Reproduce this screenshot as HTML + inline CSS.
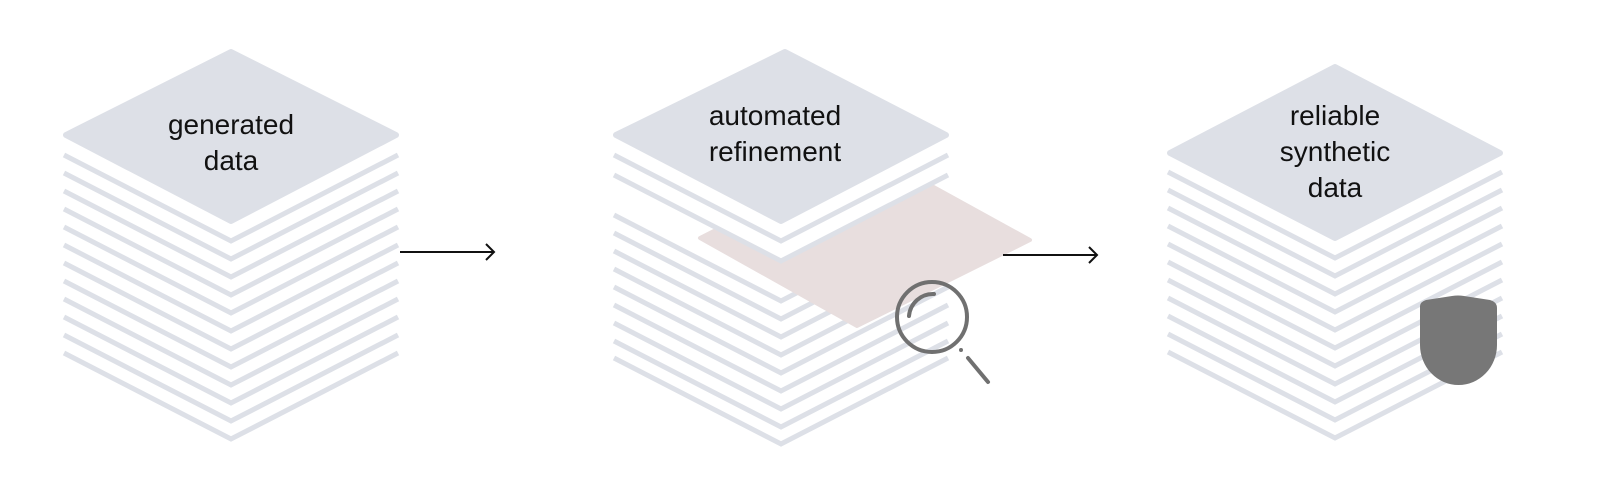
<!DOCTYPE html>
<html><head><meta charset="utf-8"><style>
html,body{margin:0;padding:0;background:#fff;}
svg{display:block}
text{font-family:"Liberation Sans",sans-serif;font-size:28px;fill:#111;text-anchor:middle}
</style></head><body>
<svg width="1600" height="479" viewBox="0 0 1600 479" xmlns="http://www.w3.org/2000/svg">
<g fill="none" stroke="#dde0e7" stroke-width="5">
<polyline points="64,155 231,241 398,155"/>
<polyline points="64,173 231,259 398,173"/>
<polyline points="64,191 231,277 398,191"/>
<polyline points="64,209 231,295 398,209"/>
<polyline points="64,227 231,313 398,227"/>
<polyline points="64,245 231,331 398,245"/>
<polyline points="64,263 231,349 398,263"/>
<polyline points="64,281 231,367 398,281"/>
<polyline points="64,299 231,385 398,299"/>
<polyline points="64,317 231,403 398,317"/>
<polyline points="64,335 231,421 398,335"/>
<polyline points="64,353 231,439 398,353"/>
<polyline points="614,215 781,301 948,215"/>
<polyline points="614,233 781,319 948,233"/>
<polyline points="614,251 781,337 948,251"/>
<polyline points="614,269 781,355 948,269"/>
<polyline points="614,287 781,373 948,287"/>
<polyline points="614,305 781,391 948,305"/>
<polyline points="614,323 781,409 948,323"/>
<polyline points="614,341 781,427 948,341"/>
<polyline points="614,358 781,444 948,358"/>
</g>
<polygon points="700,238 870,152 1030,240 857,326" fill="#e8dede" stroke="#e8dede" stroke-width="4" stroke-linejoin="round"/>
<polygon points="614,135 781,221 948,135 948,177 781,263 614,177" fill="#fff"/>
<g fill="none" stroke="#dde0e7" stroke-width="5">
<polyline points="614,155 781,241 948,155"/>
<polyline points="614,175 781,261 948,175"/>
<polyline points="1168,172 1335,258 1502,172"/>
<polyline points="1168,190 1335,276 1502,190"/>
<polyline points="1168,208 1335,294 1502,208"/>
<polyline points="1168,226 1335,312 1502,226"/>
<polyline points="1168,244 1335,330 1502,244"/>
<polyline points="1168,262 1335,348 1502,262"/>
<polyline points="1168,280 1335,366 1502,280"/>
<polyline points="1168,298 1335,384 1502,298"/>
<polyline points="1168,316 1335,402 1502,316"/>
<polyline points="1168,334 1335,420 1502,334"/>
<polyline points="1168,352 1335,438 1502,352"/>
</g>
<g fill="#dde0e7" stroke="#dde0e7" stroke-width="6" stroke-linejoin="round">
<polygon points="231,52 396,135 231,221 66,135"/>
<polygon points="785,52 946,135 781,221 616,135"/>
<polygon points="1335,67 1500,153 1335,238 1170,153"/>
</g>
<text x="231" y="134">generated</text>
<text x="231" y="170">data</text>
<text x="775" y="125">automated</text>
<text x="775" y="161">refinement</text>
<text x="1335" y="125">reliable</text>
<text x="1335" y="161">synthetic</text>
<text x="1335" y="197">data</text>
<g stroke="#111" stroke-width="2" fill="none">
<line x1="400" y1="252" x2="494" y2="252"/>
<polyline points="486,244 494,252 486,260"/>
<line x1="1003" y1="255" x2="1097" y2="255"/>
<polyline points="1089,247 1097,255 1089,263"/>
</g>
<g stroke="#707070" fill="none" stroke-width="4" stroke-linecap="round">
<circle cx="932" cy="317" r="35"/>
<path d="M909,316 A24,24 0 0 1 934,294"/>
<line x1="968" y1="358" x2="988" y2="382"/>
</g>
<circle cx="961" cy="350" r="2" fill="#707070"/>
<path d="M1420,306 Q1420,302 1426,300 L1452,296 Q1458,295 1464,296 L1490,300 Q1497,302 1497,308 L1497,345 A38.5,40 0 0 1 1420,345 Z" fill="#777"/>
</svg>
</body></html>
